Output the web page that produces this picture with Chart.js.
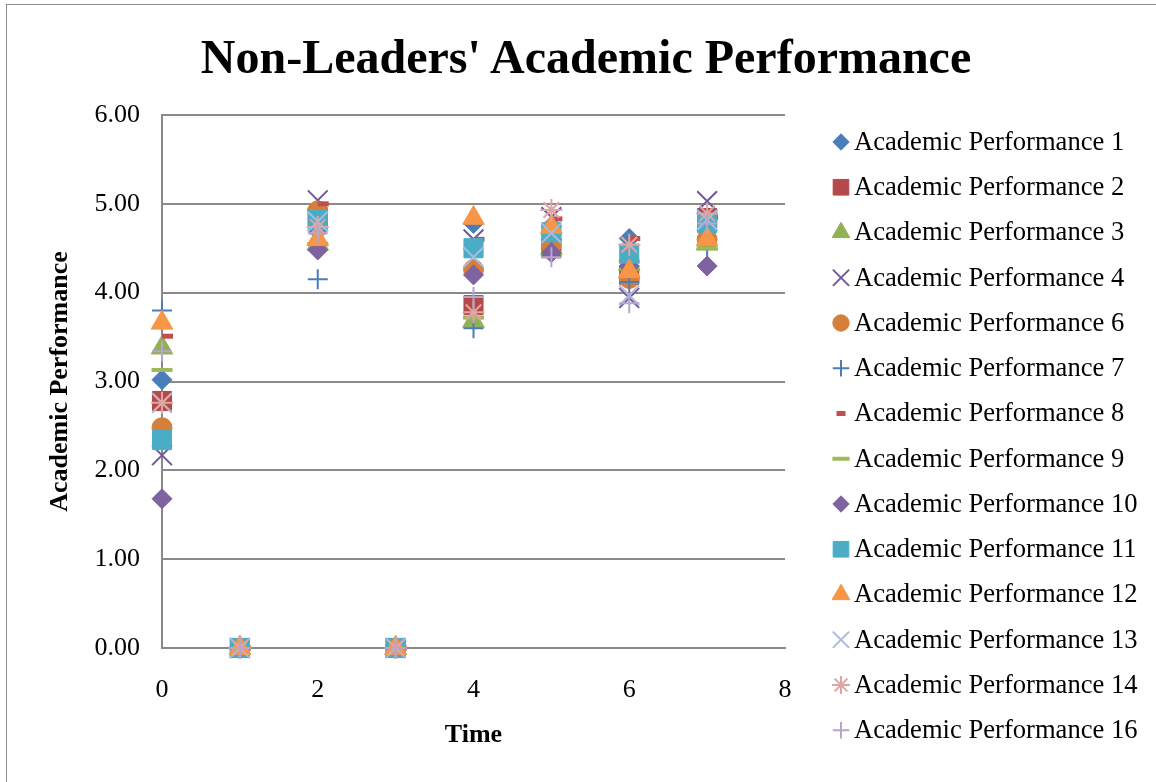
<!DOCTYPE html>
<html>
<head>
<meta charset="utf-8">
<script src="https://cdn.jsdelivr.net/npm/chart.js@4/dist/chart.umd.min.js"></script>
<style>
  body { margin: 0; background: #fff; }
  #wrap { position: relative; width: 1156px; height: 782px; overflow: hidden; }
  #frame { position: absolute; left: 6px; top: 4px; width: 1200px; height: 820px; border: 1px solid #8c8c8c; }
  #title { position: absolute; left: 0; top: 31px; width: 1156px; padding-left: 16px; box-sizing: border-box;
           text-align: center; font: bold 48px "Liberation Serif", "Times New Roman", serif; line-height: 52px; color: #000; }
  canvas { position: absolute; left: 0; top: 0; }
</style>
</head>
<body>
<div id="wrap">
  <div id="frame"></div>
  <canvas id="chart" width="1156" height="782"></canvas>
  <div id="title">Non-Leaders' Academic Performance</div>
</div>
<script>
// time points on the x axis
var timePoints = [0, 1, 2, 3, 4, 5, 6, 7];

var seriesNames = [
  "Academic Performance 1", "Academic Performance 2", "Academic Performance 3",
  "Academic Performance 4", "Academic Performance 6", "Academic Performance 7",
  "Academic Performance 8", "Academic Performance 9", "Academic Performance 10",
  "Academic Performance 11", "Academic Performance 12", "Academic Performance 13",
  "Academic Performance 14", "Academic Performance 16"
];

var ap1  = [3.02, 0, 4.70, 0, 4.78, 4.60, 4.61, 4.70];
var ap2  = [2.78, 0, 4.85, 0, 3.86, 4.50, 4.20, 4.84];
var ap3  = [3.38, 0, 4.55, 0, 3.68, 4.50, 4.32, 4.55];
var ap4  = [2.17, 0, 5.04, 0, 4.60, 4.85, 3.94, 5.03];
var ap6  = [2.48, 0, 4.92, 0, 4.26, 4.55, 4.16, 4.60];
var ap7  = [3.80, 0, 4.15, 0, 3.60, 4.60, 4.12, 4.50];
var ap8  = [3.51, 0, 5.00, 0, 4.60, 4.83, 4.61, 4.85];
var ap9  = [3.13, 0, 4.55, 0, 3.72, 4.66, 4.35, 4.50];
var ap10 = [1.68, 0, 4.48, 0, 4.20, 4.45, 4.30, 4.30];
var ap11 = [2.34, 0, 4.82, 0, 4.50, 4.68, 4.44, 4.78];
var ap12 = [3.66, 0, 4.60, 0, 4.84, 4.74, 4.24, 4.60];
var ap13 = [2.76, 0, 4.80, 0, 4.40, 4.67, 3.97, 4.82];
var ap14 = [2.76, 0, 4.74, 0, 3.78, 4.93, 4.54, 4.89];
var ap16 = [3.34, 0, 4.67, 0, 3.95, 4.40, 3.88, 4.78];

var yTicks = [0, 1, 2, 3, 4, 5, 6];
var xTicks = [0, 2, 4, 6, 8];

var allSeries = [ap1, ap2, ap3, ap4, ap6, ap7, ap8, ap9, ap10, ap11, ap12, ap13, ap14, ap16];

// marker look per series (Excel style)
var markers = [
  { style: "rectRot",  color: "#4A7EBB", r: 10,   bw: 1 },
  { style: "rect",     color: "#B5494A", r: 13.5, bw: 1 },
  { style: "triangle", color: "#92B155", r: 12.5, bw: 1 },
  { style: "crossRot", color: "#71589A", r: 14,   bw: 2 },
  { style: "circle",   color: "#D4803A", r: 10,   bw: 1 },
  { style: "cross",    color: "#4A7EBB", r: 10,   bw: 2 },
  { style: "dash",     color: "#C0504D", r: 11,   bw: 5 },
  { style: "line",     color: "#9BBB59", r: 10.5, bw: 4 },
  { style: "rectRot",  color: "#7F63A1", r: 10,   bw: 1 },
  { style: "rect",     color: "#4BACC6", r: 13.5, bw: 1 },
  { style: "triangle", color: "#F79646", r: 12.5, bw: 1 },
  { style: "crossRot", color: "#A7BADF", r: 14,   bw: 2 },
  { style: "star",     color: "#DFA5A3", r: 11,   bw: 2 },
  { style: "cross",    color: "#B5A6CC", r: 10,   bw: 2 }
];

var datasets = allSeries.map(function (vals, i) {
  var m = markers[i];
  return {
    label: seriesNames[i],
    data: timePoints.map(function (t, j) { return { x: t, y: vals[j] }; }),
    showLine: false,
    clip: false,
    pointStyle: m.style,
    pointRadius: m.r,
    pointHoverRadius: m.r,
    pointBorderWidth: m.bw,
    backgroundColor: m.color,
    borderColor: m.color,
    order: allSeries.length - i
  };
});

var serif = "'Liberation Serif', 'Times New Roman', serif";

// legend drawn on the right, Excel style
var sideLegend = {
  id: "sideLegend",
  afterDraw: function (chart) {
    var ctx = chart.ctx;
    chart.data.datasets.forEach(function (ds, i) {
      var y = 142 + i * 45.25;
      var x = 841;
      ctx.save();
      ctx.fillStyle = ds.backgroundColor;
      ctx.strokeStyle = ds.borderColor;
      ctx.lineWidth = ds.pointBorderWidth;
      var r = ds.pointRadius * 0.82;
      var px = ds.pointStyle === "dash" ? x - r * 0.5 : x;
      Chart.helpers.drawPoint(ctx, { pointStyle: ds.pointStyle, rotation: 0, radius: r, borderWidth: ds.pointBorderWidth }, px, y);
      ctx.restore();
      ctx.save();
      ctx.fillStyle = "#000";
      ctx.font = "26.6px " + serif;
      ctx.textBaseline = "middle";
      ctx.fillText(ds.label, 854, y + 1);
      ctx.restore();
    });
  }
};

var chart = new Chart(document.getElementById("chart").getContext("2d"), {
  type: "scatter",
  data: { datasets: datasets },
  options: {
    responsive: false,
    animation: false,
    layout: { padding: { left: 30, right: 371, top: 115, bottom: 0 } },
    plugins: {
      legend: { display: false },
      title: { display: false },
      tooltip: { enabled: false }
    },
    scales: {
      x: {
        type: "linear",
        min: 0,
        max: 8,
        afterBuildTicks: function (s) { s.ticks = xTicks.map(function (v) { return { value: v }; }); },
        afterFit: function (s) { s.height = 134; },
        grid: { display: false, drawTicks: false },
        border: { display: true, color: "#8a8a8a", width: 2 },
        ticks: { padding: 27, color: "#000", font: { family: serif, size: 26 } },
        title: {
          display: true, text: "Time", color: "#000",
          font: { family: serif, size: 26, weight: "bold" },
          padding: { top: 0, bottom: 31 }
        }
      },
      y: {
        min: 0,
        max: 6,
        afterBuildTicks: function (s) { s.ticks = yTicks.map(function (v) { return { value: v }; }); },
        afterFit: function (s) { s.width = 132; },
        grid: { color: "#8a8a8a", lineWidth: 2, drawTicks: false },
        border: { display: true, color: "#8a8a8a", width: 2 },
        ticks: {
          padding: 22, color: "#000", font: { family: serif, size: 26 },
          callback: function (v) { return Number(v).toFixed(2); }
        },
        title: {
          display: true, text: "Academic Performance", color: "#000",
          font: { family: serif, size: 26, weight: "bold" },
          padding: { top: 15, bottom: 0 }
        }
      }
    }
  },
  plugins: [sideLegend]
});
</script>
</body>
</html>
